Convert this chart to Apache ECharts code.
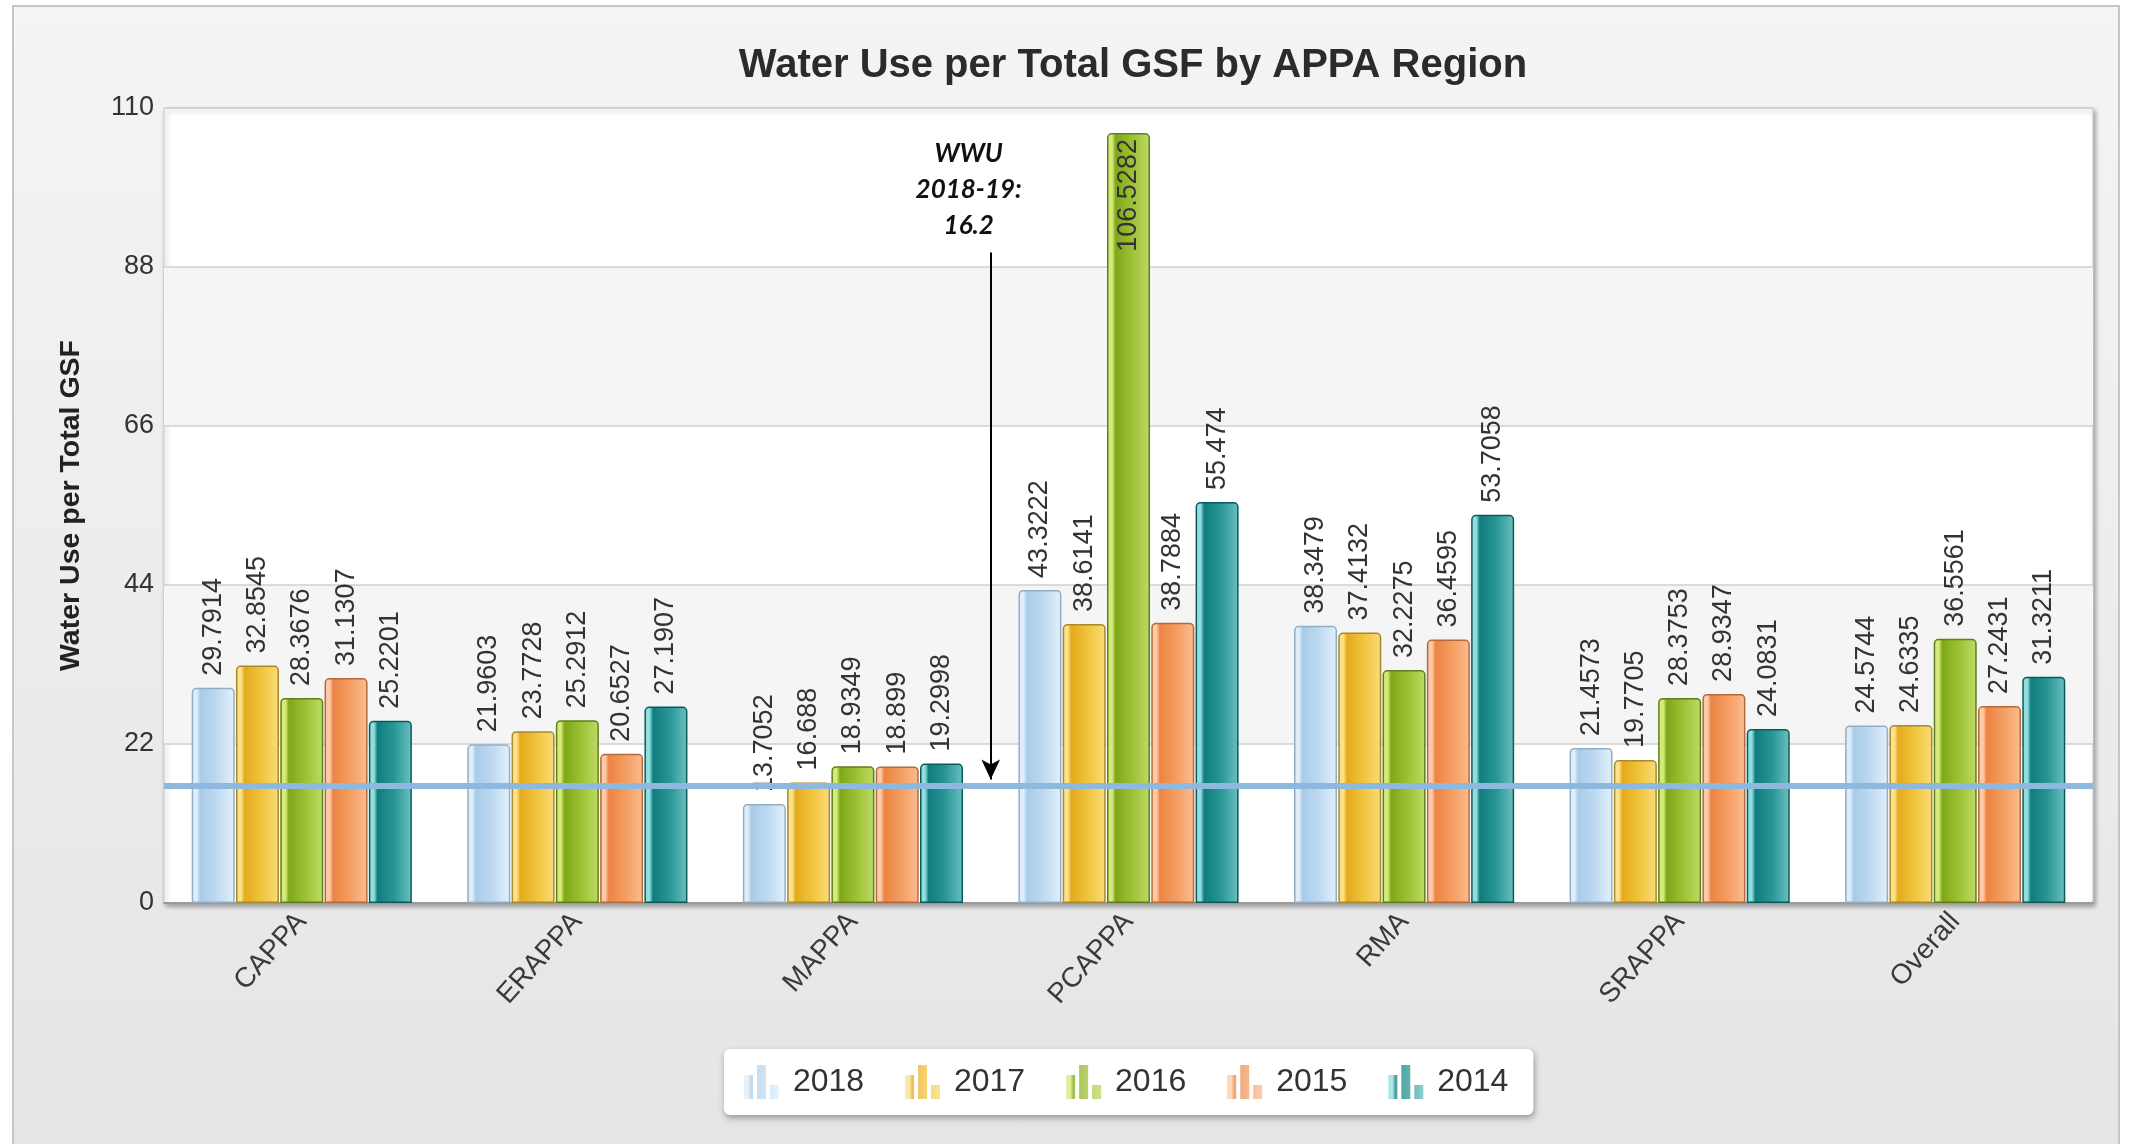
<!DOCTYPE html>
<html>
<head>
<meta charset="utf-8">
<title>Water Use per Total GSF by APPA Region</title>
<script src="https://cdn.jsdelivr.net/npm/echarts@6/dist/echarts.min.js"></script>
<style>
  html, body { margin: 0; padding: 0; background: #ffffff; }
  #frame {
    position: absolute; left: 12px; top: 5px; width: 2108px; height: 1150px;
    border: 2px solid #c6c6c6; box-sizing: border-box;
    background: linear-gradient(to bottom, #f4f4f4 0%, #ececec 55%, #e5e5e5 100%);
  }
  #chart { position: absolute; left: 0; top: 0; width: 2133px; height: 1144px; }
</style>
</head>
<body>
<div id="frame"></div>
<div id="chart"></div>
<script>
// Regions and the yearly values of water use per total GSF
const regions = ['CAPPA', 'ERAPPA', 'MAPPA', 'PCAPPA', 'RMA', 'SRAPPA', 'Overall'];
const years = ['2018', '2017', '2016', '2015', '2014'];
const values2018 = [29.7914, 21.9603, 13.7052, 43.3222, 38.3479, 21.4573, 24.5744];
const values2017 = [32.8545, 23.7728, 16.688, 38.6141, 37.4132, 19.7705, 24.6335];
const values2016 = [28.3676, 25.2912, 18.9349, 106.5282, 32.2275, 28.3753, 36.5561];
const values2015 = [31.1307, 20.6527, 18.899, 38.7884, 36.4595, 28.9347, 27.2431];
const values2014 = [25.2201, 27.1907, 19.2998, 55.474, 53.7058, 24.0831, 31.3211];
const yTicks = [0, 22, 44, 66, 88, 110];

// WWU reference level and its callout
const wwuValue = 16.2;
const wwuCaption = 'WWU\n2018-19:\n' + wwuValue;
const calloutPos = [2.92, 98.7];      // caption centre, on the hidden 0..7 axis
const arrowFrom = [3, 90];
const arrowTo = [3, 17.1];

const seriesValues = [values2018, values2017, values2016, values2015, values2014];
const yMax = yTicks[yTicks.length - 1];
// columns this tall keep their value label inside the bar, below the top
const insideLabelFrom = yMax - 15;

// Shaded column fills (left highlight, dark body, lighter right side)
const palettes = [
  { edge: '#deedf9', dark: '#a9cbe8', mid: '#bfdaf1', light: '#e3f1fc', border: '#93aec4' },
  { edge: '#fbe28a', dark: '#e4aa1c', mid: '#f0c53e', light: '#fadc7a', border: '#a88a2e' },
  { edge: '#d6ea7a', dark: '#7fa71a', mid: '#9ec236', light: '#bedb66', border: '#5e7f1c' },
  { edge: '#fdcaa8', dark: '#ec8444', mid: '#f49e62', light: '#fbbd92', border: '#b46a3c' },
  { edge: '#92dede', dark: '#0f7d7d', mid: '#2a9797', light: '#6cc0c0', border: '#0b5a5a' }
];

function columnFill(p) {
  return new echarts.graphic.LinearGradient(0, 0, 1, 0, [
    { offset: 0, color: p.edge },
    { offset: 0.12, color: p.edge },
    { offset: 0.2, color: p.dark },
    { offset: 0.6, color: p.mid },
    { offset: 1, color: p.light }
  ]);
}

const baseFont = "'Liberation Sans', Arial, sans-serif";

function columnData(vals) {
  return vals.map(v => v >= insideLabelFrom
    ? { value: v, label: { position: 'insideTop', align: 'right', distance: 6 } }
    : v);
}

const barSeries = years.map((y, i) => ({
  name: y,
  type: 'bar',
  xAxisIndex: 0,
  yAxisIndex: 0,
  data: columnData(seriesValues[i]),
  barWidth: 43,
  barGap: '3%',
  z: 2,
  itemStyle: {
    color: columnFill(palettes[i]),
    borderColor: palettes[i].border,
    borderWidth: 1.5,
    borderRadius: [4, 4, 0, 0]
  },
  label: {
    show: true,
    position: 'top',
    rotate: 90,
    align: 'left',
    verticalAlign: 'middle',
    distance: 12,
    formatter: '{c}',
    fontFamily: baseFont,
    fontSize: 27,
    color: '#333333'
  }
}));

const wwuSeries = {
  name: 'WWU',
  type: 'line',
  xAxisIndex: 1,
  yAxisIndex: 0,
  data: [[0, wwuValue], [7, wwuValue]],
  symbol: 'none',
  silent: true,
  z: 10,
  lineStyle: { color: '#8fb8df', width: 6 },
  markLine: {
    silent: true,
    symbol: ['none', 'arrow'],
    symbolSize: [14, 20],
    label: { show: false },
    lineStyle: { color: '#000000', width: 2, type: 'solid' },
    data: [[{ coord: arrowFrom }, { coord: arrowTo }]]
  },
  markPoint: {
    silent: true,
    symbol: 'circle',
    symbolSize: 0,
    label: {
      show: true,
      position: 'inside',
      formatter: wwuCaption,
      fontFamily: "Lato, 'Open Sans', sans-serif",
      fontStyle: 'italic',
      fontWeight: 'bold',
      fontSize: 26,
      lineHeight: 36,
      align: 'center',
      color: '#111111'
    },
    data: [{ coord: calloutPos }]
  }
};

// small three-column glyph used as the legend marker
const legendIcon = 'path://M0,10h9v24h-9z M13,0h9v34h-9z M26,20h9v14h-9z';

const chart = echarts.init(document.getElementById('chart'), null, { renderer: 'canvas' });
chart.setOption({
  backgroundColor: 'transparent',
  animation: false,
  title: {
    text: 'Water Use per Total GSF by APPA Region',
    left: 1128,
    top: 41,
    textAlign: 'center',
    textStyle: { fontFamily: baseFont, fontSize: 40, fontWeight: 'bold', color: '#2b2b2b' }
  },
  grid: {
    left: 164, right: 40, top: 108, bottom: 241,
    show: true,
    backgroundColor: '#ffffff',
    borderColor: '#c9c9c9',
    borderWidth: 1,
    shadowColor: 'rgba(0,0,0,0.35)',
    shadowBlur: 5,
    shadowOffsetX: 2,
    shadowOffsetY: 3
  },
  legend: {
    data: years,
    left: 724,
    top: 1049,
    orient: 'horizontal',
    padding: [16, 25, 16, 20],
    itemWidth: 35,
    itemHeight: 34,
    itemGap: 41,
    icon: legendIcon,
    formatter: name => ' ' + name,
    backgroundColor: '#ffffff',
    borderRadius: 6,
    shadowColor: 'rgba(0,0,0,0.35)',
    shadowBlur: 6,
    shadowOffsetX: 1,
    shadowOffsetY: 3,
    itemStyle: { borderWidth: 0, opacity: 0.75 },
    textStyle: { fontFamily: baseFont, fontSize: 32, color: '#333333' }
  },
  xAxis: [
    {
      type: 'category',
      data: regions,
      axisTick: { show: false },
      axisLine: { show: true, lineStyle: { color: '#9a9a9a', width: 2 } },
      axisLabel: {
        rotate: 48,
        margin: 14,
        fontFamily: baseFont,
        fontSize: 28,
        color: '#3a3a3a'
      }
    },
    { type: 'value', min: 0, max: 7, show: false }
  ],
  yAxis: {
    type: 'value',
    min: yTicks[0],
    max: yMax,
    interval: yTicks[1] - yTicks[0],
    name: 'Water Use per Total GSF',
    nameLocation: 'middle',
    nameGap: 78,
    nameTextStyle: { fontFamily: baseFont, fontSize: 28.5, fontWeight: 'bold', color: '#222222' },
    axisLine: { show: false },
    axisTick: { show: false },
    axisLabel: { margin: 10, fontFamily: baseFont, fontSize: 27, color: '#333333' },
    splitLine: { show: true, lineStyle: { color: '#cfcfcf', width: 1.5 } },
    splitArea: { show: true, areaStyle: { color: ['rgba(255,255,255,0)', '#f5f5f5'] } }
  },
  series: barSeries.concat([wwuSeries])
});
</script>
</body>
</html>
